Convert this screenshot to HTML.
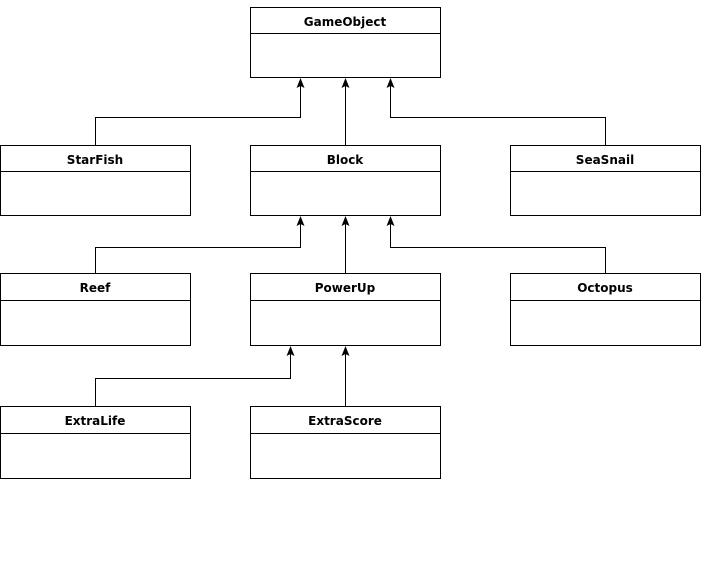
<!DOCTYPE html>
<html><head><meta charset="utf-8"><style>
html,body{margin:0;padding:0;background:#fff;}
svg text{font-family:"DejaVu Sans",sans-serif;font-weight:bold;font-size:12px;fill:#000;}
</style></head><body>
<svg width="701" height="564" viewBox="0 0 701 564" xmlns="http://www.w3.org/2000/svg">
<g fill="#fff" stroke="#000" stroke-width="1">
<rect x="250.5" y="7.5" width="190" height="70"/><line x1="250.5" y1="33.5" x2="440.5" y2="33.5"/>
<rect x="0.5" y="145.5" width="190" height="70"/><line x1="0.5" y1="171.5" x2="190.5" y2="171.5"/>
<rect x="250.5" y="145.5" width="190" height="70"/><line x1="250.5" y1="171.5" x2="440.5" y2="171.5"/>
<rect x="510.5" y="145.5" width="190" height="70"/><line x1="510.5" y1="171.5" x2="700.5" y2="171.5"/>
<rect x="0.5" y="273.5" width="190" height="72"/><line x1="0.5" y1="300.5" x2="190.5" y2="300.5"/>
<rect x="250.5" y="273.5" width="190" height="72"/><line x1="250.5" y1="300.5" x2="440.5" y2="300.5"/>
<rect x="510.5" y="273.5" width="190" height="72"/><line x1="510.5" y1="300.5" x2="700.5" y2="300.5"/>
<rect x="0.5" y="406.5" width="190" height="72"/><line x1="0.5" y1="433.5" x2="190.5" y2="433.5"/>
<rect x="250.5" y="406.5" width="190" height="72"/><line x1="250.5" y1="433.5" x2="440.5" y2="433.5"/>
</g>
<g fill="none" stroke="#000" stroke-width="1">
<path d="M95.5,145 V117.5 H300.5 V85"/>
<path d="M345.5,145 V85"/>
<path d="M605.5,145 V117.5 H390.5 V85"/>
<path d="M95.5,273 V247.5 H300.5 V223"/>
<path d="M345.5,273 V223"/>
<path d="M605.5,273 V247.5 H390.5 V223"/>
<path d="M95.5,406 V378.5 H290.5 V353"/>
<path d="M345.5,406 V353"/>
</g>
<g fill="#000">
<path d="M300.5,78 L304.5,88 L300.5,86 L296.5,88 Z"/>
<path d="M345.5,78 L349.5,88 L345.5,86 L341.5,88 Z"/>
<path d="M390.5,78 L394.5,88 L390.5,86 L386.5,88 Z"/>
<path d="M300.5,216 L304.5,226 L300.5,224 L296.5,226 Z"/>
<path d="M345.5,216 L349.5,226 L345.5,224 L341.5,226 Z"/>
<path d="M390.5,216 L394.5,226 L390.5,224 L386.5,226 Z"/>
<path d="M290.5,346 L294.5,356 L290.5,354 L286.5,356 Z"/>
<path d="M345.5,346 L349.5,356 L345.5,354 L341.5,356 Z"/>
</g>
<g text-anchor="middle">
<text x="345" y="26">GameObject</text>
<text x="95" y="164">StarFish</text>
<text x="345" y="164">Block</text>
<text x="605" y="164">SeaSnail</text>
<text x="95" y="292">Reef</text>
<text x="345" y="292">PowerUp</text>
<text x="605" y="292">Octopus</text>
<text x="95" y="425">ExtraLife</text>
<text x="345" y="425">ExtraScore</text>
</g>
</svg>
</body></html>
